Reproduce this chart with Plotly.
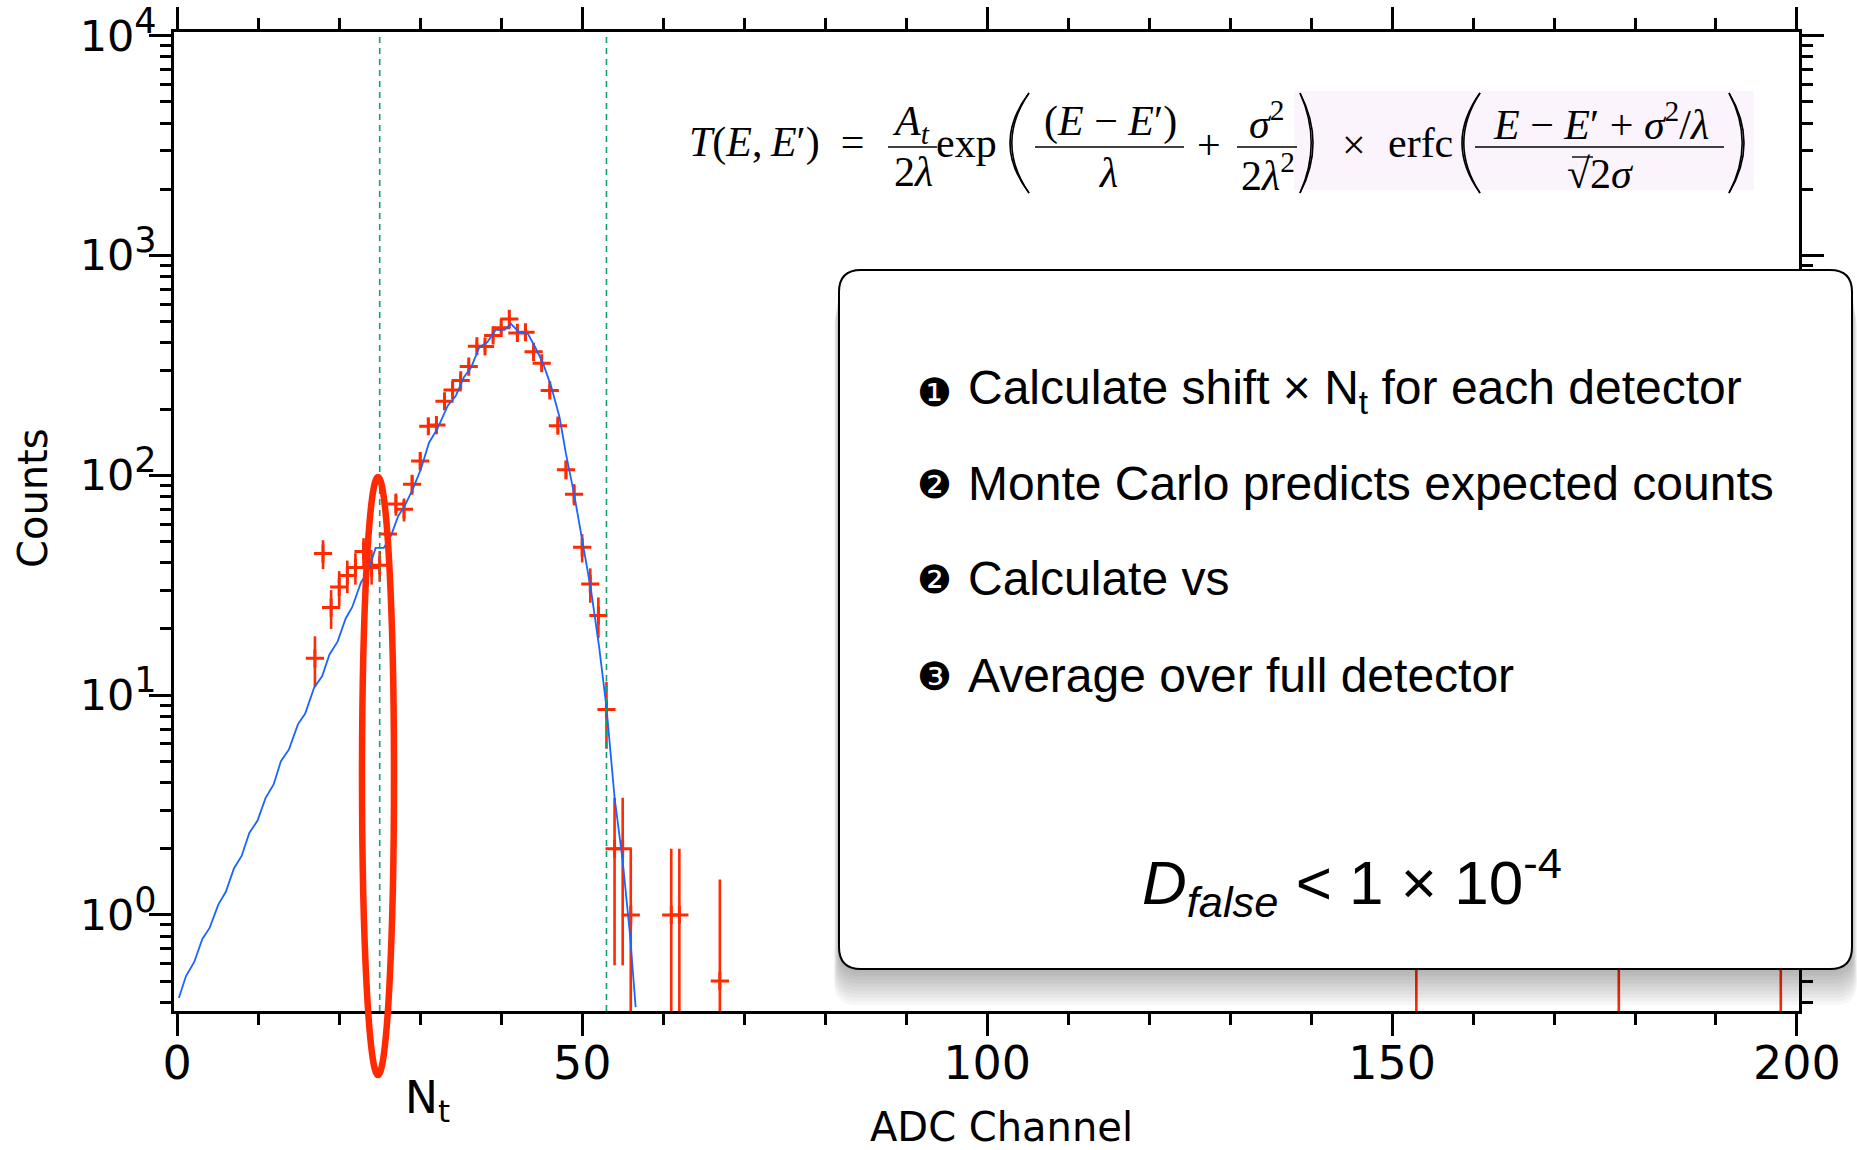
import plotly.graph_objects as go

# ---------------- data ----------------
chan = [17, 18, 19, 20, 21, 22, 23, 24, 25, 26, 27, 28, 29, 30, 31, 32, 33, 34, 35,
        36, 37, 38, 39, 40, 41, 42, 43, 44, 45, 46, 47, 48, 49, 50, 51, 52, 53,
        54, 55, 56, 61, 62, 67, 153, 178, 198]
counts = [14.7, 44, 25, 31, 35, 38, 45, 38, 39, 54, 74, 70, 91, 116, 167, 169, 217, 244, 270,
          312, 386, 385, 432, 468, 514, 444, 447, 364, 323, 243, 168, 106, 82, 47, 32, 23, 8.6,
          2, 2, 1, 1, 1, 0.5, 1, 1, 1]
errs = [3.8, 6.6, 5.0, 5.6, 5.9, 6.2, 6.7, 6.2, 6.2, 7.3, 8.6, 8.4, 9.5, 10.8, 12.9, 13.0, 14.7, 15.6, 16.4,
        17.7, 19.6, 19.6, 20.8, 21.6, 22.7, 21.1, 21.1, 19.1, 18.0, 15.6, 13.0, 10.3, 9.1, 6.9, 5.7, 4.8, 2.9,
        1.41, 1.41, 1.0, 1.0, 1.0, 0.95, 1.0, 1.0, 1.0]

fit_x = [0.2, 1.07, 2.1, 3.1, 4.0, 5.07, 6.0, 7.0, 7.95, 8.9, 9.9, 10.9, 11.9, 12.8, 13.8,
         14.9, 15.8, 16.9, 17.9, 18.8, 19.8, 20.8, 21.6, 22.7, 23.5, 24.5, 25.5, 26.4, 27.3, 28.0,
         29.1, 30.1, 31.1, 32.1, 33.4, 34.4, 35.4, 36.3, 37.3, 38.3, 39.3, 40.4, 41.2, 42.2, 43.3,
         44.2, 45.2, 46.2, 47.2, 48.0, 49.0, 50.1, 51.1, 52.1, 53.0, 54.0, 55.0, 55.9, 56.6]
fit_y = [0.419, 0.526, 0.611, 0.778, 0.873, 1.114, 1.274, 1.626, 1.854, 2.36, 2.68, 3.40, 3.92, 5.00, 5.66,
         7.36, 8.24, 10.8, 12.2, 15.3, 17.5, 22.3, 25.1, 32.6, 36.1, 46.7, 46.7, 53.1, 65.5, 71.4,
         86.7, 107, 141, 162, 207, 230, 279, 310, 382, 403, 458, 458, 488, 447, 440,
         382, 321, 251, 184, 125, 82.2, 48.6, 29.9, 16.5, 8.79, 3.42, 1.76, 0.817, 0.381]

cut_x = [25, 53]

x_major = [0, 50, 100, 150, 200]
x_labels = ["0", "50", "100", "150", "200"]
y_major = [1, 10, 100, 1000, 10000]
y_exp = ["0", "1", "2", "3", "4"]
y_minor = [k * 10 ** d for d in range(-1, 4) for k in range(2, 10)]

bullets = ["\u2776", "\u2777", "\u2777", "\u2778"]
steps = ["Calculate shift \u00d7 N<sub>t</sub> for each detector",
         "Monte Carlo predicts expected counts",
         "Calculate vs",
         "Average over full detector"]

# ---------------- geometry ----------------
W, H = 1857, 1150
ML, MR, MT, MB = 174, 58, 32, 139
PW = W - ML - MR
PH = H - MT - MB
RED = "#ff2a00"
BLUE = "#1a64ff"
GREEN = "#12a070"


def X(p):
    return (p - ML) / PW


def Y(p):
    return (H - MB - p) / PH


fig = go.Figure()
fig.add_trace(go.Scatter(
    x=chan, y=counts, mode="markers",
    marker=dict(symbol="cross-thin", size=13, color=RED, line=dict(width=3, color=RED)),
    error_y=dict(type="data", array=errs, visible=True, thickness=2.6, width=0, color=RED),
    showlegend=False, hoverinfo="skip"))
fig.add_trace(go.Scatter(
    x=fit_x, y=fit_y, mode="lines", line=dict(color=BLUE, width=1.8),
    showlegend=False, hoverinfo="skip"))

shapes = []
# faint background behind part of the formula
shapes.append(dict(type="rect", xref="paper", yref="paper", x0=X(1294), x1=X(1754), y0=Y(190), y1=Y(91),
                   fillcolor="#fbf4fd", line=dict(width=0), layer="below"))
# vertical cut lines
for cx in cut_x:
    shapes.append(dict(type="line", xref="x", yref="paper", x0=cx, x1=cx, y0=0, y1=1,
                       line=dict(color=GREEN, width=1.6, dash="6px,5px"), layer="above"))
# ellipse around N_t
shapes.append(dict(type="circle", xref="paper", yref="paper", x0=X(362), x1=X(394), y0=Y(1075), y1=Y(477),
                   line=dict(color=RED, width=6.5), layer="above"))

# fraction bars of the formula
for a, b in [(888, 937), (1035, 1184), (1237, 1297), (1475, 1724)]:
    shapes.append(dict(type="line", xref="paper", yref="paper", x0=X(a), x1=X(b), y0=Y(147), y1=Y(147),
                       line=dict(color="black", width=1.6), layer="above"))
# sqrt overbar
shapes.append(dict(type="line", xref="paper", yref="paper", x0=X(1572), x1=X(1593), y0=Y(157), y1=Y(157),
                   line=dict(color="black", width=1.4), layer="above"))


def paren(ends, apex, top=93, bot=193):
    out = []
    for off in (0, 1.8 if apex < ends else -1.8):
        a = apex + off
        c = 2 * a - ends
        path = f"M {X(ends)},{Y(top)} Q {X(c)},{Y((top + bot) / 2)} {X(ends)},{Y(bot)}"
        out.append(dict(type="path", xref="paper", yref="paper", path=path,
                        line=dict(color="black", width=1.6), layer="above"))
    return out


shapes += paren(1029, 1010)
shapes += paren(1300, 1313)
shapes += paren(1480, 1462)
shapes += paren(1729, 1744)


def rrect(x0, y0, x1, y1, r):
    return (f"M {X(x0 + r)},{Y(y0)} L {X(x1 - r)},{Y(y0)} Q {X(x1)},{Y(y0)} {X(x1)},{Y(y0 + r)} "
            f"L {X(x1)},{Y(y1 - r)} Q {X(x1)},{Y(y1)} {X(x1 - r)},{Y(y1)} "
            f"L {X(x0 + r)},{Y(y1)} Q {X(x0)},{Y(y1)} {X(x0)},{Y(y1 - r)} "
            f"L {X(x0)},{Y(y0 + r)} Q {X(x0)},{Y(y0)} {X(x0 + r)},{Y(y0)} Z")


BX0, BY0, BX1, BY1 = 839, 270, 1852, 969
for i in range(1, 11):
    off = i * 3.6
    shapes.append(dict(type="path", xref="paper", yref="paper",
                       path=rrect(BX0 - i * 0.5, BY0 + off, BX1 + i * 0.5, BY1 + off, 22),
                       fillcolor="rgba(0,0,0,0.03)", line=dict(width=0), layer="above"))
shapes.append(dict(type="path", xref="paper", yref="paper", path=rrect(BX0, BY0, BX1, BY1, 22),
                   fillcolor="white", line=dict(color="black", width=2), layer="above"))

annotations = []


def ann(text, xp, yp, size, family, xanchor="center", angle=0):
    annotations.append(dict(text=text, xref="paper", yref="paper", x=X(xp), y=Y(yp),
                            xanchor=xanchor, yanchor="middle", showarrow=False, textangle=angle,
                            font=dict(size=size, family=family, color="black")))


SANS = "DejaVu Sans"
HELV = "Liberation Sans, Arial, sans-serif"
SERIF = "Liberation Serif, Times New Roman, serif"

ann("Counts", 33, 498, 40, SANS, angle=-90)
ann("ADC Channel", 1001, 1127, 40, SANS)
ann("N<sub>t</sub>", 427, 1100, 44, SANS)

# formula
FS = 42
ann("<i>T</i>(<i>E</i>,\u2009<i>E</i>\u2032)\u2002=", 687, 143, FS, SERIF, xanchor="left")
ann("<i>A</i><sub><i>t</i></sub>", 911, 124, FS, SERIF)
ann("2<i>\u03bb</i>", 913, 172, FS, SERIF)
ann("exp", 966, 143, FS, SERIF)
ann("(<i>E</i> \u2212 <i>E</i>\u2032)", 1110, 122, FS, SERIF)
ann("<i>\u03bb</i>", 1108, 173, FS, SERIF)
ann("+", 1209, 145, FS, SERIF)
ann("<i>\u03c3</i><sup>2</sup>", 1266, 120, FS, SERIF)
ann("2<i>\u03bb</i><sup>2</sup>", 1268, 172, FS, SERIF)
ann("\u00d7", 1354, 145, FS, SERIF)
ann("erfc", 1420, 143, FS, SERIF)
ann("<i>E</i> \u2212 <i>E</i>\u2032 + <i>\u03c3</i><sup>2</sup>/<i>\u03bb</i>", 1601, 121, FS, SERIF)
ann("\u221a2<i>\u03c3</i>", 1600, 174, FS, SERIF)

# box content
for i, (b, s) in enumerate(zip(bullets, steps)):
    yc = [391, 483, 578, 675][i]
    ann(b, 934, yc + 1, 39, SANS)
    ann(s, 966, yc, 48, HELV, xanchor="left")
ann("<i>D</i><sub><i>false</i></sub> &lt; 1 \u00d7 10<sup>-4</sup>", 1352, 882, 62, HELV)

axis_common = dict(showline=True, linecolor="black", linewidth=2.5, mirror="ticks",
                   ticks="outside", ticklen=22, tickwidth=2.5, tickcolor="black",
                   showgrid=False, zeroline=False, automargin=False)

y_labels = ["10<sup><span style='font-size:35px'>" + e + "</span></sup>" for e in y_exp]

fig.update_layout(
    width=W, height=H, autosize=False,
    margin=dict(l=ML, r=MR, t=MT, b=MB, pad=0, autoexpand=False),
    paper_bgcolor="white", plot_bgcolor="white",
    xaxis=dict(range=[-0.4, 200.25], tickmode="array", tickvals=x_major, ticktext=x_labels,
               tickfont=dict(family=SANS, size=46, color="black"), ticklabelstandoff=-12,
               minor=dict(dtick=10, tick0=0, ticks="outside", ticklen=11, tickwidth=2.5,
                          tickcolor="black", showgrid=False),
               **axis_common),
    yaxis=dict(type="log", range=[-0.437, 4.016], tickmode="array", tickvals=y_major, ticktext=y_labels,
               tickfont=dict(family=SANS, size=43, color="black"), ticklabelstandoff=-16,
               minor=dict(tickmode="array", tickvals=y_minor, ticks="outside", ticklen=11, tickwidth=2.5,
                          tickcolor="black", showgrid=False),
               **axis_common),
    shapes=shapes,
    annotations=annotations,
    showlegend=False,
)

fig.write_html("out.html")
